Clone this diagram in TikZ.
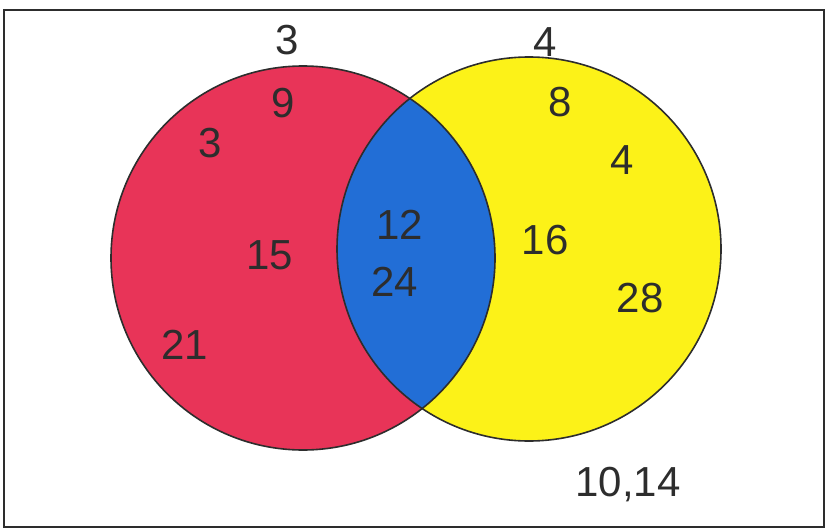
\documentclass[tikz,border=0pt]{standalone}
\usepackage{fontspec}
\setmainfont{Liberation Sans}
\usetikzlibrary{positioning}
\definecolor{setred}{RGB}{232,52,88}
\definecolor{setyellow}{RGB}{252,242,24}
\definecolor{setblue}{RGB}{34,110,214}
\definecolor{pencil}{RGB}{45,45,45}

\begin{document}
\begin{tikzpicture}[x=1pt, y=-1pt,
  every node/.style={font=\fontsize{42}{42}\selectfont},
  ring/.style={draw=pencil, line width=1.6pt},
  num/.style={inner sep=0pt, text=pencil}
]
  \useasboundingbox (0,0) rectangle (832,532);
  \draw[pencil, line width=1.8pt] (4,10) rectangle (824,527);

  % the two sets and their overlap
  \fill[setred] (303,258) circle (192);
  \fill[setyellow] (529,249) circle (192);
  \begin{scope}
    \clip (303,258) circle (192);
    \fill[setblue] (529,249) circle (192);
  \end{scope}
  \draw[ring] (303,258) circle (192);
  \draw[ring] (529,249) circle (192);

  % outside labels
  \node[num] (topa) at (287,40) {3};
  \node[num] (topb) at (545,42) {4};
  \node[num] (outside) at (628,485) {10,14};

  % left set only
  \node[num] (nine) at (283,103) {9};
  \node[num] (three) at (210,143) {3};
  \node[num] (fifteen) at (270,255) {15};
  \node[num] (twentyone) at (185,345) {21};

  % both sets
  \node[num] (twelve) at (400,225) {12};
  \node[num] (twentyfour) at (395,282) {24};

  % right set only
  \node[num] (eight) at (560,102) {8};
  \node[num] (four) at (622,160) {4};
  \node[num] (sixteen) at (545,240) {16};
  \node[num] (twentyeight) at (640,298) {28};
\end{tikzpicture}
\end{document}
